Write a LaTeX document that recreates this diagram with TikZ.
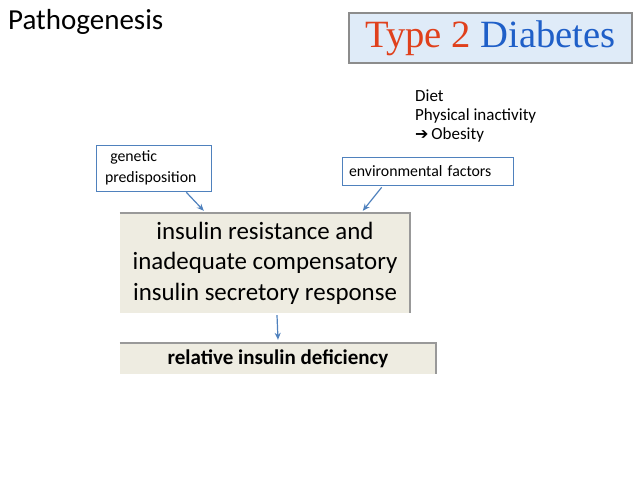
\documentclass[tikz,border=0pt]{standalone}
\usepackage{fontspec}
\setmainfont{Carlito}
\newfontfamily\titlefont{Liberation Serif}
\newfontfamily\symfont{DejaVu Sans}
\usepackage{xcolor}
\usetikzlibrary{positioning,arrows.meta}

\definecolor{arrowblue}{HTML}{4F81BD}
\definecolor{boxbeige}{HTML}{EEECE1}
\definecolor{titlered}{HTML}{E0401C}
\definecolor{titleblue}{HTML}{1F5FC8}
\definecolor{titlefill}{HTML}{DFEBF8}

\begin{document}
\begin{tikzpicture}[x=1pt, y=-1pt,
  factorbox/.style={rectangle, draw=arrowblue, line width=0.7pt, font=\fontsize{15.8}{20.5}\selectfont, inner ysep=0pt, align=left},
  mainbox/.style={rectangle, fill=boxbeige, inner sep=0pt, align=center},
  shadowline/.style={draw=black!40, line width=2.5pt},
  arrow/.style={-{Stealth[length=7pt, width=6pt]}, arrowblue, line width=1.2pt}
  ]
  \useasboundingbox (0,0) rectangle (638,479);
  % heading and title box
  \node[anchor=base west, inner sep=0pt, font=\fontsize{29}{33}\selectfont] (head) at (8,30) {Pathogenesis};
  \node[rectangle, draw=black!45, line width=2.5pt, fill=titlefill, minimum width=283pt, minimum height=50pt,
        font=\titlefont\fontsize{38.6}{40}\selectfont] (title) at (490.5,38)
        {\textcolor{titlered}{Type 2} \textcolor{titleblue}{Diabetes}};
  % causes
  \node[anchor=north west, inner sep=0pt, align=left, font=\fontsize{17}{19}\selectfont] (diet) at (415,90)
        {Diet\\Physical inactivity\\{\symfont\bfseries\fontsize{16}{19}\selectfont ➔}\,Obesity};
  \node[factorbox, minimum height=46pt, inner xsep=9pt, text width=97pt] (gen) at (153.5,168)
        {\ genetic\\predisposition};
  \node[factorbox, minimum height=28pt, inner xsep=7pt, text width=157pt] (env) at (427.5,171) {environmental factors};
  % consequences
  \node[mainbox, minimum width=290pt, minimum height=100pt, font=\fontsize{24.9}{30.5}\selectfont] (main) at (265,263)
        {insulin resistance and\\inadequate compensatory\\insulin secretory response};
  \node[mainbox, minimum width=316pt, minimum height=31pt, font=\bfseries\fontsize{21}{24}\selectfont] (defic) at (278,358.5)
        {relative insulin deficiency};
  \draw[shadowline] (main.north west) -- (main.north east) -- (main.south east);
  \draw[shadowline] (defic.north west) -- (defic.north east) -- (defic.south east);
  % arrows
  \draw[arrow] ([xshift=-25pt, yshift=-1pt]gen.south east) -- ([xshift=84pt, yshift=2pt]main.north west);
  \draw[arrow] ([xshift=40pt, yshift=-2pt]env.south west) -- ([xshift=243pt, yshift=2pt]main.north west);
  \draw[arrow] ([xshift=12pt, yshift=-2pt]main.south) -- ([yshift=3pt]defic.north);
\end{tikzpicture}
\end{document}
